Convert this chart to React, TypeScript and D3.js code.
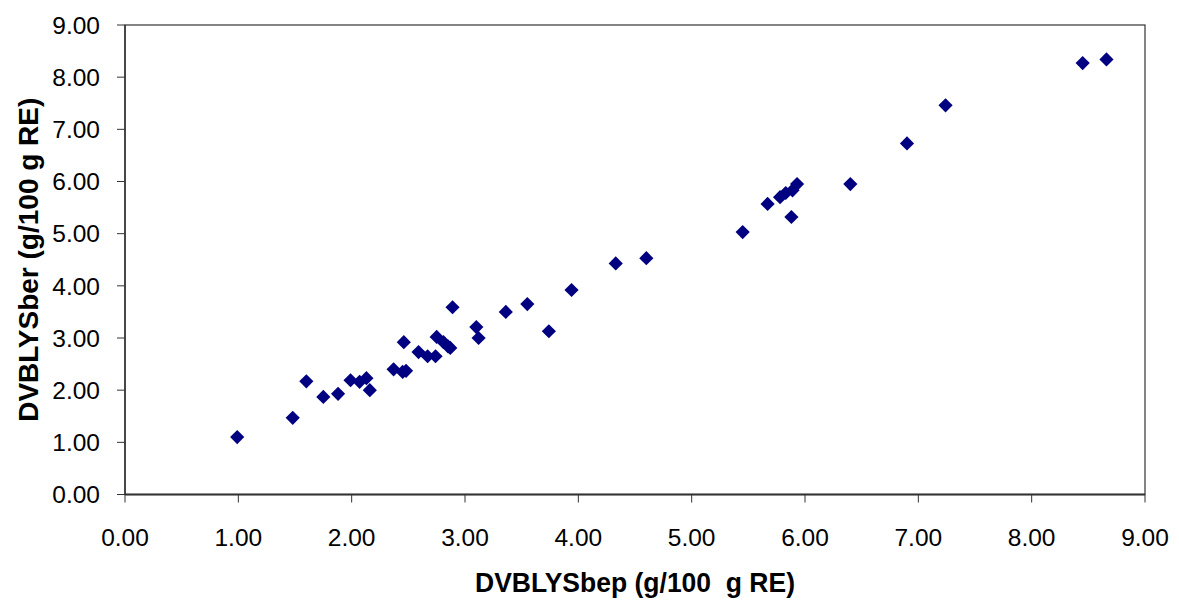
import React from "react";
import * as d3 from "d3";

const xValues = [0.99, 1.48, 1.60, 1.75, 1.88, 1.99, 2.07, 2.13, 2.16, 2.37, 2.45, 2.46, 2.48, 2.59, 2.67, 2.74, 2.75, 2.81, 2.85, 2.87, 2.89, 3.10, 3.12, 3.36, 3.55, 3.74, 3.94, 4.33, 4.60, 5.45, 5.67, 5.78, 5.83, 5.89, 5.88, 5.93, 6.40, 6.90, 7.24, 8.45, 8.66];
const yValues = [1.10, 1.47, 2.17, 1.87, 1.93, 2.19, 2.16, 2.23, 2.00, 2.40, 2.35, 2.92, 2.37, 2.73, 2.65, 2.65, 3.02, 2.92, 2.84, 2.81, 3.59, 3.21, 3.00, 3.50, 3.65, 3.13, 3.92, 4.43, 4.53, 5.03, 5.57, 5.70, 5.78, 5.83, 5.32, 5.95, 5.95, 6.73, 7.46, 8.27, 8.34];
const tickValues = [0, 1, 2, 3, 4, 5, 6, 7, 8, 9];
const xTitle = "DVBLYSbep (g/100  g RE)";
const yTitle = "DVBLYSber (g/100 g RE)";

export default function App() {
  const W = 1179, H = 603;
  const x = d3.scaleLinear().domain([0, 9]).range([125, 1145]);
  const y = d3.scaleLinear().domain([0, 9]).range([494.5, 25]);
  const fmt = d3.format(".2f");
  const font = "Arial, 'Liberation Sans', sans-serif";
  const diamond = d3.symbol().type(d3.symbolDiamond2).size(128)();
  const axisColor = "#333";
  return (
    <svg width={W} height={H} style={{ position: "absolute", left: 0, top: 0, background: "#fff" }}>
      <rect x={0} y={0} width={W} height={H} fill="#fff" />
      <rect x={x(0)} y={y(9)} width={x(9) - x(0)} height={y(0) - y(9)} fill="none" stroke={axisColor} strokeWidth={1.2} />
      <line x1={x(0)} x2={x(9)} y1={y(0)} y2={y(0)} stroke={axisColor} strokeWidth={2} />
      <line x1={x(0)} x2={x(0)} y1={y(0)} y2={y(9)} stroke={axisColor} strokeWidth={1.5} />
      {tickValues.map((t) => (
        <g key={"y" + t}>
          <line x1={x(0) - 8} x2={x(0)} y1={y(t)} y2={y(t)} stroke={axisColor} strokeWidth={1} />
          <text x={100} y={y(t)} dy="0.36em" textAnchor="end" fontFamily={font} fontSize={24.5} fill="#000">
            {fmt(t)}
          </text>
        </g>
      ))}
      {tickValues.map((t) => (
        <g key={"x" + t}>
          <line x1={x(t)} x2={x(t)} y1={y(0)} y2={y(0) + 8} stroke={axisColor} strokeWidth={1} />
          <text x={x(t)} y={546} textAnchor="middle" fontFamily={font} fontSize={24.5} fill="#000">
            {fmt(t)}
          </text>
        </g>
      ))}
      {xValues.map((v, i) => (
        <path key={i} d={diamond} transform={`translate(${x(v)},${y(yValues[i])})`} fill="#000080" />
      ))}
      <text x={(x(0) + x(9)) / 2} y={592} textAnchor="middle" fontFamily={font} fontWeight="bold" fontSize={28} fill="#000" textLength={320} lengthAdjust="spacingAndGlyphs" style={{ whiteSpace: "pre" }}>
        {xTitle}
      </text>
      <text transform={`translate(38,${(y(0) + y(9)) / 2}) rotate(-90)`} textAnchor="middle" fontFamily={font} fontWeight="bold" fontSize={28} fill="#000">
        {yTitle}
      </text>
    </svg>
  );
}
